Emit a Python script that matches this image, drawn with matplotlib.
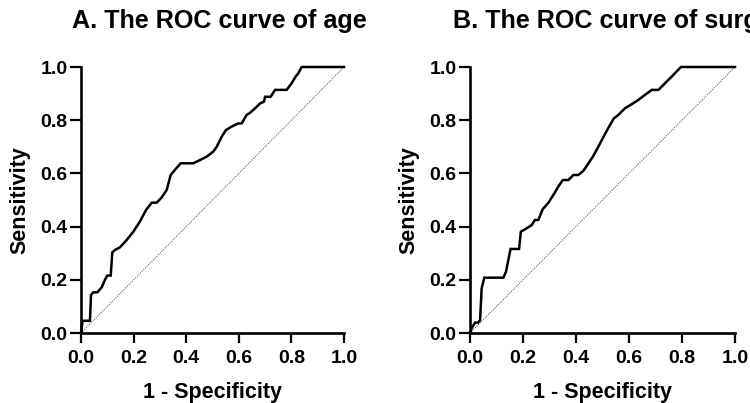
import matplotlib
matplotlib.use("Agg")
import matplotlib.pyplot as plt
import numpy as np

plt.rcParams['font.family'] = ['Liberation Sans', 'DejaVu Sans']
plt.rcParams['font.weight'] = 'bold'

# Panel A: ROC curve of age
age_fpr = [0.0, 0.006, 0.034, 0.038, 0.047, 0.062, 0.079, 0.091, 0.100, 0.113, 0.119,
           0.129, 0.148, 0.174, 0.199, 0.224, 0.247, 0.269, 0.288, 0.307, 0.326, 0.341,
           0.357, 0.379, 0.427, 0.452, 0.478, 0.503, 0.516, 0.535, 0.551, 0.573, 0.598,
           0.611, 0.630, 0.643, 0.662, 0.681, 0.696, 0.700, 0.721, 0.738, 0.782, 0.801,
           0.816, 0.826, 0.839, 1.0]
age_tpr = [0.0, 0.046, 0.046, 0.143, 0.153, 0.153, 0.172, 0.200, 0.216, 0.216, 0.303,
           0.312, 0.322, 0.350, 0.381, 0.419, 0.462, 0.490, 0.490, 0.510, 0.538, 0.594,
           0.613, 0.638, 0.638, 0.650, 0.663, 0.682, 0.700, 0.738, 0.763, 0.776, 0.788,
           0.788, 0.820, 0.828, 0.845, 0.863, 0.870, 0.888, 0.888, 0.914, 0.914, 0.939,
           0.964, 0.976, 1.0, 1.0]

# Panel B: ROC curve of surgery
sur_fpr = [0.0, 0.006, 0.019, 0.031, 0.038, 0.044, 0.054, 0.126, 0.136, 0.153, 0.185,
           0.192, 0.208, 0.233, 0.245, 0.258, 0.274, 0.296, 0.317, 0.333, 0.350, 0.371,
           0.390, 0.409, 0.428, 0.447, 0.465, 0.484, 0.503, 0.526, 0.543, 0.560, 0.585,
           0.610, 0.635, 0.660, 0.686, 0.711, 0.736, 0.767, 0.796, 1.0]
sur_tpr = [0.0, 0.018, 0.039, 0.039, 0.049, 0.168, 0.208, 0.208, 0.231, 0.316, 0.316,
           0.381, 0.390, 0.406, 0.425, 0.425, 0.465, 0.490, 0.523, 0.550, 0.575, 0.575,
           0.594, 0.594, 0.610, 0.638, 0.665, 0.700, 0.736, 0.778, 0.807, 0.820, 0.845,
           0.860, 0.876, 0.895, 0.914, 0.914, 0.939, 0.970, 1.0, 1.0]

ticks = [0.0, 0.2, 0.4, 0.6, 0.8, 1.0]
tick_labels = ['0.0', '0.2', '0.4', '0.6', '0.8', '1.0']
titles = ['A. The ROC curve of age', 'B. The ROC curve of surgery time']
xlabel = '1 - Specificity'
ylabel = 'Sensitivity'

W, H = 750, 403
fig = plt.figure(figsize=(W / 100, H / 100), dpi=100)

panels = [
    (81, 344, age_fpr, age_tpr, 72),
    (470, 735, sur_fpr, sur_tpr, 453),
]
top_px, bot_px = 67, 333

for i, (x0, x1, fpr, tpr, tx) in enumerate(panels):
    ax = fig.add_axes([x0 / W, (H - bot_px) / H, (x1 - x0) / W, (bot_px - top_px) / H])
    ax.plot([0, 1], [0, 1], color='0.35', lw=0.7, linestyle=(0, (1.2, 1.2)), clip_on=False)
    ax.plot(fpr, tpr, color='black', lw=1.8, clip_on=False, solid_joinstyle='miter')
    ax.set_xlim(0, 1)
    ax.set_ylim(0, 1)
    ax.set_xticks(ticks)
    ax.set_yticks(ticks)
    ax.set_xticklabels(tick_labels, fontsize=14, fontweight='bold')
    ax.set_yticklabels(tick_labels, fontsize=14, fontweight='bold')
    for s in ['top', 'right']:
        ax.spines[s].set_visible(False)
    for s in ['left', 'bottom']:
        ax.spines[s].set_linewidth(1.9)
    ax.tick_params(axis='x', direction='out', length=7.3, width=1.6, pad=5)
    ax.tick_params(axis='y', direction='out', length=8, width=1.6, pad=1.8)
    ax.set_xlabel(xlabel, fontsize=15.5, fontweight='bold', labelpad=10.5)
    ax.set_ylabel(ylabel, fontsize=15.5, fontweight='bold', labelpad=7)
    fig.text(tx / W, (H - 28) / H, titles[i], fontsize=18.1, fontweight='bold',
             ha='left', va='baseline')

fig.savefig('out.png', dpi=100)
